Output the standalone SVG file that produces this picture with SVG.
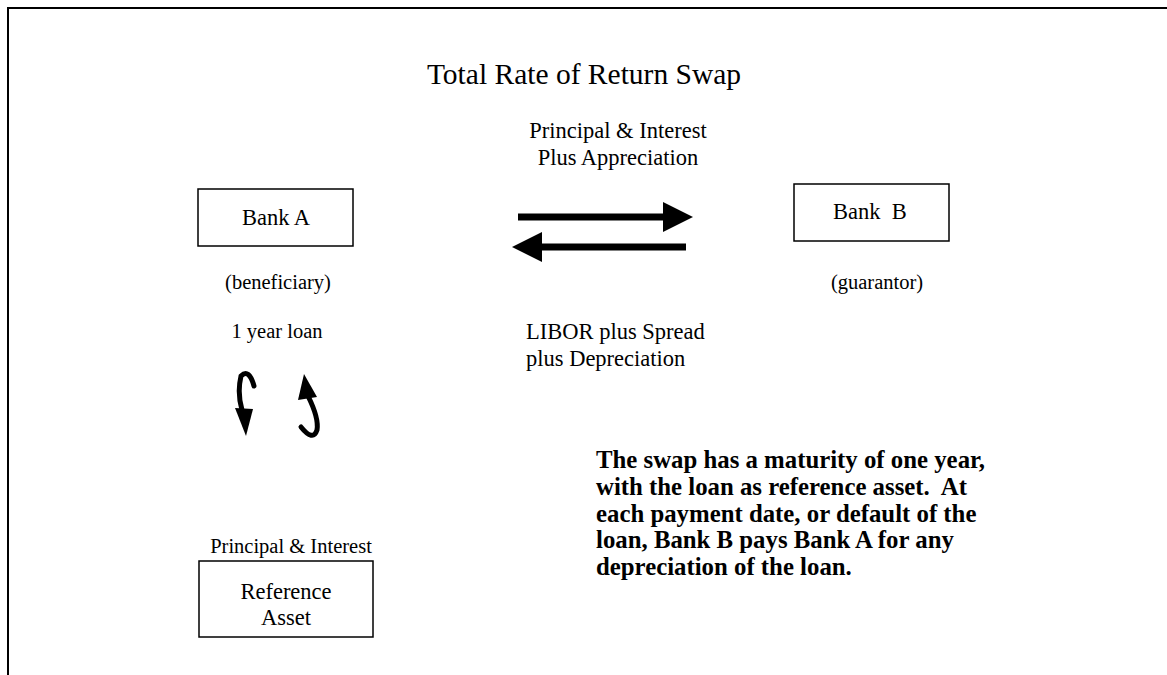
<svg xmlns="http://www.w3.org/2000/svg" width="1167" height="675" viewBox="0 0 1167 675">
<style>
.t{font-family:"Liberation Serif","Times New Roman",serif;fill:#000}
.box{fill:#fff;stroke:#000;stroke-width:1.5}
.c{text-anchor:middle}
.s{font-size:20.5px}
.m{font-size:22.5px}
.b{font-size:24.8px;font-weight:bold}
.shaft{stroke:#000;stroke-width:7;fill:none}
.curl{stroke:#000;stroke-width:5;fill:none;stroke-linecap:round}
</style>
<rect width="1167" height="675" fill="#fff"/>
<path d="M8 675 V8 H1167" fill="none" stroke="#000" stroke-width="2"/>
<text class="t c" x="584" y="84" font-size="29.5">Total Rate of Return Swap</text>
<g id="bankA">
<rect class="box" x="198" y="189" width="155" height="57"/>
<text class="t c m" x="276" y="225">Bank A</text>
<text class="t c s" x="278" y="289">(beneficiary)</text>
</g>
<g id="bankB">
<rect class="box" x="794" y="184" width="155" height="57"/>
<text class="t c m" x="870" y="219" xml:space="preserve">Bank  B</text>
<text class="t c s" x="877" y="289">(guarantor)</text>
</g>
<g id="refAsset">
<rect class="box" x="199" y="561" width="174" height="76"/>
<text class="t c m" x="286" y="599">Reference</text>
<text class="t c m" x="286" y="625">Asset</text>
</g>
<g id="connectors">
<line class="shaft" x1="518" y1="217" x2="665" y2="217"/>
<polygon points="663,202 693,217 663,232"/>
<line class="shaft" x1="540" y1="247" x2="686" y2="247"/>
<polygon points="542,232 512,247 542,262"/>
<path class="curl" d="M254 386 Q249 368 241 376 Q237 393 242 410"/>
<polygon points="235,408 253,409 246,436"/>
<path class="curl" d="M308 396 Q319 418 317 430 Q313 442 301 427"/>
<polygon points="304,374 298,400 317,397"/>
</g>
<g id="labels">
<text class="t c m" x="618" y="138">Principal &amp; Interest</text>
<text class="t c m" x="618" y="165">Plus Appreciation</text>
<text class="t m" x="526" y="339">LIBOR plus Spread</text>
<text class="t m" x="526" y="366">plus Depreciation</text>
<text class="t c s" x="277" y="338">1 year loan</text>
<text class="t c s" x="291" y="553">Principal &amp; Interest</text>
</g>
<g id="note">
<text class="t b" x="596" y="468">The swap has a maturity of one year,</text>
<text class="t b" x="596" y="495" xml:space="preserve">with the loan as reference asset.  At</text>
<text class="t b" x="596" y="522">each payment date, or default of the</text>
<text class="t b" x="596" y="548">loan, Bank B pays Bank A for any</text>
<text class="t b" x="596" y="575">depreciation of the loan.</text>
</g>
</svg>
